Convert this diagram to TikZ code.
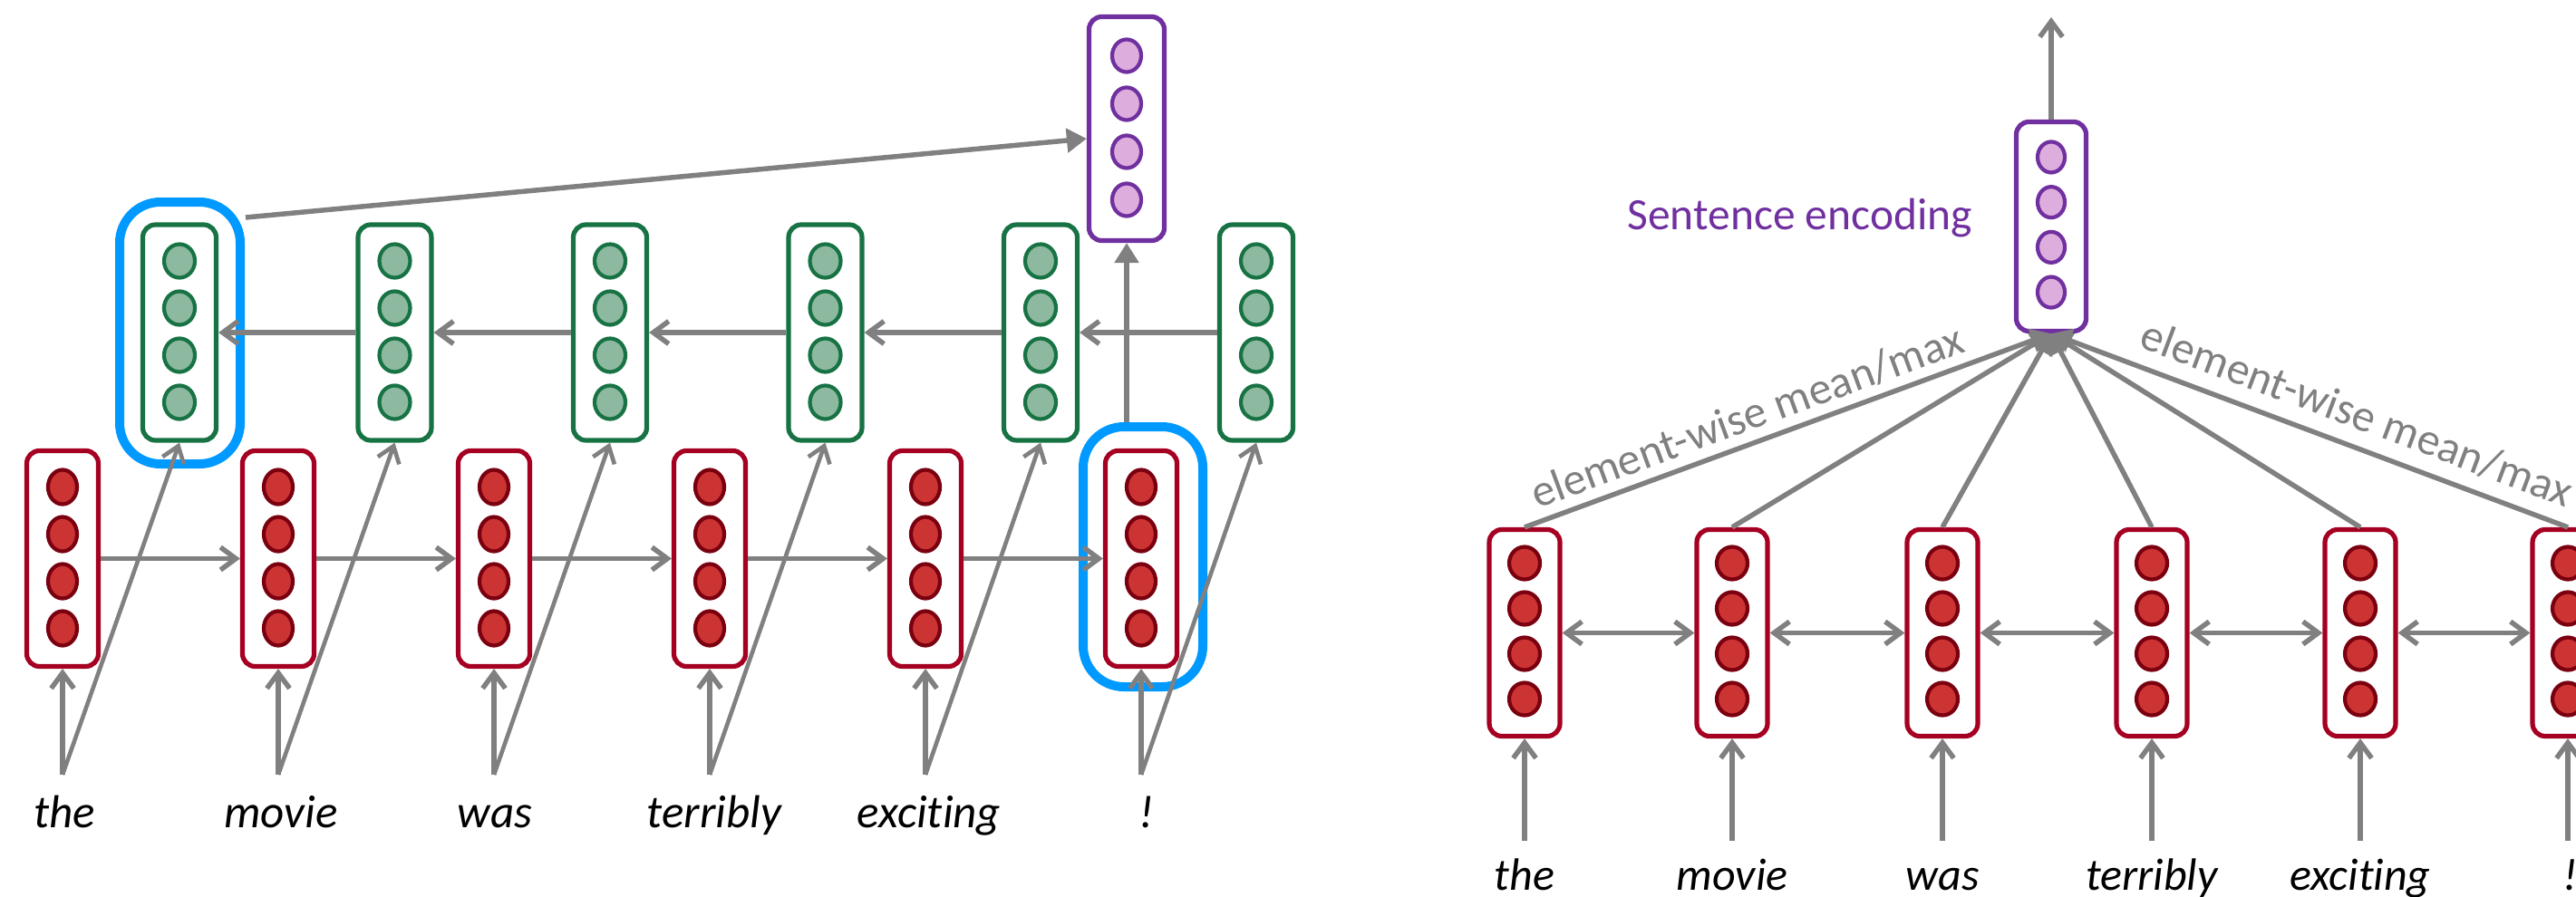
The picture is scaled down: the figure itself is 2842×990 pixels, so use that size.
\documentclass[tikz,border=0pt]{standalone}
\usepackage{fontspec}
\setmainfont{Carlito}[Ligatures=NoCommon]
\usetikzlibrary{arrows.meta,shapes.geometric,calc}
\definecolor{bred}{RGB}{165,0,33}
\definecolor{cred}{RGB}{204,51,51}
\definecolor{cdred}{RGB}{122,0,16}
\definecolor{bgreen}{RGB}{24,115,68}
\definecolor{cgreen}{RGB}{141,185,160}
\definecolor{bpurple}{RGB}{112,48,160}
\definecolor{cpurple}{RGB}{221,174,221}
\definecolor{hblue}{RGB}{0,153,255}
\definecolor{agray}{RGB}{128,128,128}
\newcommand{\vecnode}[6]{%
  \node[#3] (#1) at (#2) {};
  \foreach \k/\m in {1/-1.5,2/-0.5,3/0.5,4/1.5}{
    \node[#4] (#1-\k) at ($(#1.center)+(0,{\m*#5+(#6)})$) {};
  }%
}
\tikzset{
  vbox/.style={rectangle, rounded corners=14pt, line width=5.2pt, fill=white, inner sep=0pt},
  redL/.style={vbox, draw=bred, minimum width=79pt, minimum height=238pt},
  greenL/.style={vbox, draw=bgreen, minimum width=81pt, minimum height=238pt},
  purpleL/.style={vbox, draw=bpurple, minimum width=83pt, minimum height=247pt},
  redR/.style={vbox, draw=bred, minimum width=78pt, minimum height=228pt},
  purpleR/.style={vbox, draw=bpurple, minimum width=77pt, minimum height=231pt},
  cir/.style={ellipse, line width=4.2pt, inner sep=0pt},
  cirRL/.style={cir, draw=cdred, fill=cred, minimum width=32pt, minimum height=38pt},
  cirG/.style={cir, draw=bgreen, fill=cgreen, minimum width=34pt, minimum height=37pt},
  cirPL/.style={cir, draw=bpurple, fill=cpurple, minimum width=32pt, minimum height=36pt},
  cirRR/.style={cir, draw=cdred, fill=cred, minimum width=34pt, minimum height=36pt},
  cirPR/.style={cir, draw=bpurple, fill=cpurple, minimum width=30pt, minimum height=34pt},
  hilite/.style={rectangle, draw=hblue, line width=10pt, rounded corners=45pt, inner sep=0pt},
  garrow/.style={draw=agray, line width=5.5pt, -{Straight Barb[length=17pt,width=25pt]}},
  thinarrow/.style={garrow, line width=4.6pt},
  darrow/.style={draw=agray, line width=5.5pt, {Straight Barb[length=17pt,width=25pt]}-{Straight Barb[length=17pt,width=25pt]}},
  farrow/.style={draw=agray, line width=5.5pt, -{Triangle[length=22pt,width=26pt]}},
  wordL/.style={anchor=base, inner sep=0pt, font=\fontsize{51}{61}\selectfont\itshape},
  wordR/.style={anchor=base, inner sep=0pt, font=\fontsize{50}{60}\selectfont\itshape},
  lbl/.style={text=agray, font=\fontsize{50}{60}\selectfont, inner sep=9pt},
}
\begin{document}
\begin{tikzpicture}[x=1pt,y=-1pt]
\useasboundingbox (0,0) rectangle (2842,990);
\clip (0,0) rectangle (2842,990);

% ---------------- left panel ----------------
\node[hilite, minimum width=133pt, minimum height=289pt] (blueA) at (198.5,367.5) {};
\node[hilite, minimum width=132pt, minimum height=287pt] (blueB) at (1261,614.5) {};

\foreach \i/\x in {0/69,1/307,2/545,3/783,4/1021,5/1259}{
  \vecnode{RL\i}{\x,616.5}{redL}{cirRL}{52}{-1}
}
\foreach \i/\x in {0/198,1/435.5,2/673,3/910.5,4/1148,5/1386}{
  \vecnode{GL\i}{\x,367}{greenL}{cirG}{52}{-1}
}
\vecnode{PL}{1243,142}{purpleL}{cirPL}{53}{-1}

\foreach \i/\x/\w in {0/71/the,1/310/movie,2/546/was,3/788/terribly,4/1025/exciting,5/1265/!}{
  \node[wordL] (tL\i) at (\x,913) {\w};
}
\foreach \i/\x in {0/69,1/307,2/545,3/783,4/1021,5/1259}{
  \coordinate (wL\i) at (\x,855);
}

\foreach \i/\j in {0/1,1/2,2/3,3/4,4/5}{
  \draw[garrow] (RL\i.east) -- (RL\j.west);
  \draw[garrow] (GL\j.west) -- (GL\i.east);
}
\foreach \i in {0,...,5}{
  \draw[garrow] (wL\i) -- (RL\i.south);
  \draw[thinarrow] (wL\i) -- (GL\i.south);
}
\draw[farrow] ($(blueA.north east)+(1,22)$) -- ($(PL.west)+(0,11)$);
\draw[farrow] (blueB.north -| PL.south) -- (PL.south);

% ---------------- right panel ----------------
\foreach \i/\x in {0/1682,1/1911,2/2143,3/2374,4/2604,5/2833}{
  \vecnode{RR\i}{\x,698.5}{redR}{cirRR}{50}{-2}
}
\vecnode{PR}{2263,250}{purpleR}{cirPR}{49.7}{-2}

\foreach \i/\x/\w in {0/1682/the,1/1911/movie,2/2143/was,3/2374/terribly,4/2604/exciting,5/2836/!}{
  \coordinate (wR\i) at (\x,928);
  \node[wordR] (tR\i) at (\x,982) {\w};
}
\coordinate (wR5) at (2833,928);

\foreach \i/\j in {0/1,1/2,2/3,3/4,4/5}{
  \draw[darrow] (RR\i.east) -- (RR\j.west);
}
\foreach \i in {0,...,5}{
  \draw[garrow] (wR\i) -- (RR\i.south);
}
\draw[farrow] (RR0.north) -- node[sloped, above, pos=0.44, lbl] (lblA) {element-wise mean/max} (PR.south);
\foreach \i in {1,2,3,4}{
  \draw[farrow] (RR\i.north) -- (PR.south);
}
\draw[farrow] (RR5.north) -- node[sloped, above, pos=0.43, lbl, inner sep=15pt] (lblB) {element-wise mean/max} (PR.south);
\coordinate (topR) at (2263,19);
\draw[garrow] (PR.north) -- (topR);
\node[anchor=base east, inner sep=0pt, text=bpurple, font=\fontsize{49.5}{59}\selectfont] (senc) at (2176,253) {Sentence encoding};
\end{tikzpicture}
\end{document}
